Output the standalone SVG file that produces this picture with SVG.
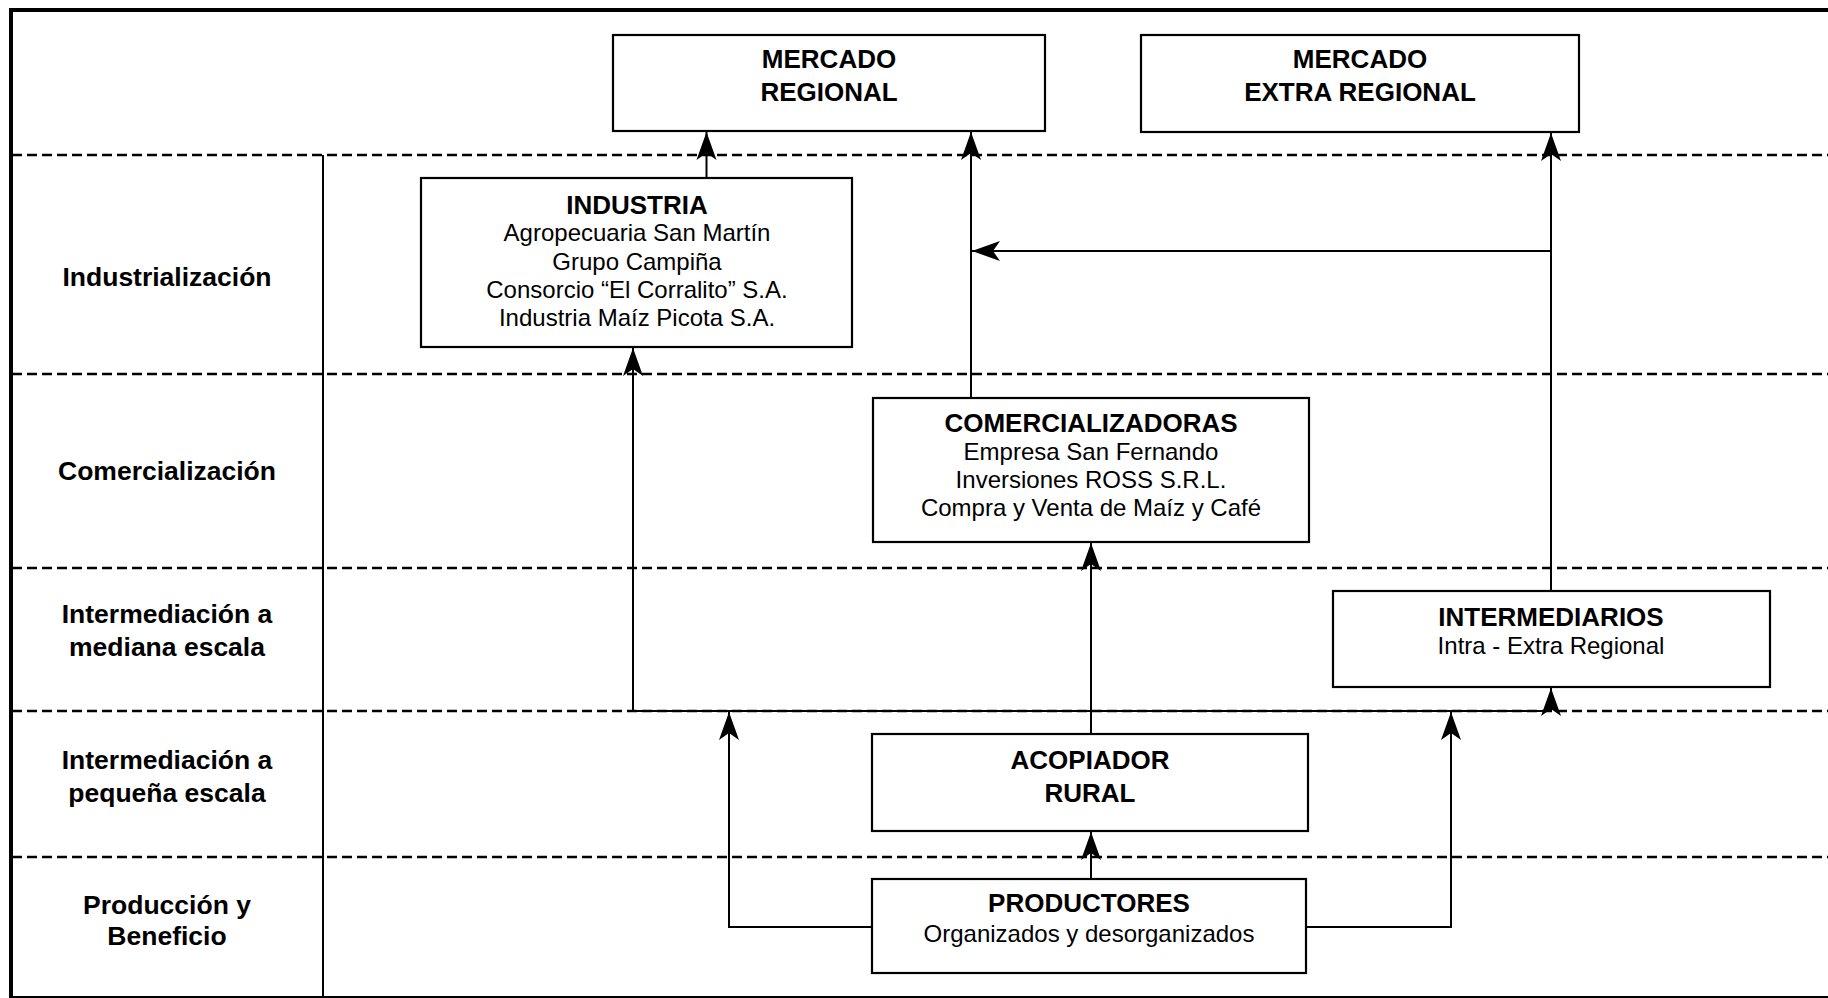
<svg xmlns="http://www.w3.org/2000/svg" width="1828" height="998" viewBox="0 0 1828 998">
<style>
.bx{fill:#fff;stroke:#000;stroke-width:2.2}
.b{font-family:"Liberation Sans",Arial,sans-serif;font-weight:bold;font-size:26px;fill:#000;text-anchor:middle}
.lb{font-size:26.5px}
.r{font-family:"Liberation Sans",Arial,sans-serif;font-size:24px;fill:#000;text-anchor:middle}
.dash{stroke:#000;stroke-width:2.4;stroke-dasharray:10 5;fill:none}
.c{stroke:#000;stroke-width:2;fill:none}
.ca{stroke:#000;stroke-width:2;fill:none;marker-end:url(#ah)}
</style>
<defs>
<marker id="ah" markerUnits="userSpaceOnUse" markerWidth="32" markerHeight="24" viewBox="-30 -12 32 24" refX="0" refY="0" orient="auto">
<path d="M0,0 L-28,-10 L-21,0 L-28,10 Z" fill="#000"/>
</marker>
</defs>
<rect width="1828" height="998" fill="#fff"/>
<g id="frame">
<path d="M11,998 V10 H1828" stroke="#000" stroke-width="4" fill="none"/>
<path d="M11,997 H1828" stroke="#000" stroke-width="2" fill="none"/>
<path d="M323,155 V998" stroke="#000" stroke-width="2" fill="none"/>
<path class="dash" d="M12,155 H1828 M12,374 H1828 M12,568 H1828 M12,711 H1828 M12,857 H1828"/>
</g>
<g id="labels">
<text class="b lb" x="167" y="286">Industrialización</text>
<text class="b lb" x="167" y="480">Comercialización</text>
<text class="b lb" x="167" y="623">Intermediación a</text>
<text class="b lb" x="167" y="656">mediana escala</text>
<text class="b lb" x="167" y="769">Intermediación a</text>
<text class="b lb" x="167" y="802">pequeña escala</text>
<text class="b lb" x="167" y="914">Producción y</text>
<text class="b lb" x="167" y="945">Beneficio</text>
</g>
<g id="connectors">
<path class="ca" d="M706.5,178 V132"/>
<path class="ca" d="M971,398 V132"/>
<path class="ca" d="M1551,591 V133"/>
<path class="ca" d="M1551,251 H972"/>
<path class="c" d="M633,711 H1551" stroke-width="2.4"/>
<path class="ca" d="M633,711 V348"/>
<path class="ca" d="M1551,711 V688"/>
<path class="ca" d="M1091,734 V543"/>
<path class="ca" d="M1091,879 V832"/>
<path class="ca" d="M872,927 H729 V712"/>
<path class="ca" d="M1306,927 H1451 V712"/>
</g>
<g id="mercado-regional">
<rect class="bx" x="613" y="35" width="432" height="96"/>
<text class="b" x="829" y="68">MERCADO</text>
<text class="b" x="829" y="101">REGIONAL</text>
</g>
<g id="mercado-extra-regional">
<rect class="bx" x="1141" y="35" width="438" height="97"/>
<text class="b" x="1360" y="68">MERCADO</text>
<text class="b" x="1360" y="101">EXTRA REGIONAL</text>
</g>
<g id="industria">
<rect class="bx" x="421" y="178" width="431" height="169"/>
<text class="b" x="637" y="214">INDUSTRIA</text>
<text class="r" x="637" y="241">Agropecuaria San Martín</text>
<text class="r" x="637" y="270">Grupo Campiña</text>
<text class="r" x="637" y="298">Consorcio “El Corralito” S.A.</text>
<text class="r" x="637" y="326">Industria Maíz Picota S.A.</text>
</g>
<g id="comercializadoras">
<rect class="bx" x="873" y="398" width="436" height="144"/>
<text class="b" x="1091" y="432">COMERCIALIZADORAS</text>
<text class="r" x="1091" y="460">Empresa San Fernando</text>
<text class="r" x="1091" y="488">Inversiones ROSS S.R.L.</text>
<text class="r" x="1091" y="516">Compra y Venta de Maíz y Café</text>
</g>
<g id="intermediarios">
<rect class="bx" x="1333" y="591" width="437" height="96"/>
<text class="b" x="1551" y="626">INTERMEDIARIOS</text>
<text class="r" x="1551" y="654">Intra - Extra Regional</text>
</g>
<g id="acopiador">
<rect class="bx" x="872" y="734" width="436" height="97"/>
<text class="b" x="1090" y="769">ACOPIADOR</text>
<text class="b" x="1090" y="802">RURAL</text>
</g>
<g id="productores">
<rect class="bx" x="872" y="879" width="434" height="94"/>
<text class="b" x="1089" y="912">PRODUCTORES</text>
<text class="r" x="1089" y="942">Organizados y desorganizados</text>
</g>
</svg>
